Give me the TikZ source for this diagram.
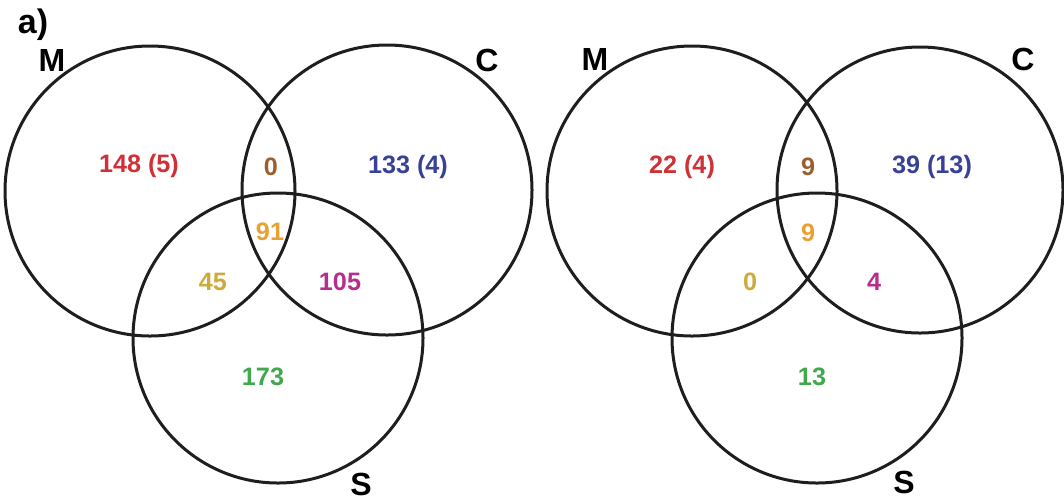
\documentclass[tikz,border=0pt]{standalone}
\usepackage{fontspec}
\setmainfont{Liberation Sans}
\usepackage{tikz}
\usetikzlibrary{calc}
\usepackage{xcolor}
\definecolor{setred}{RGB}{208,48,54}
\definecolor{setbrown}{RGB}{155,95,45}
\definecolor{setblue}{RGB}{55,65,150}
\definecolor{setorange}{RGB}{232,160,50}
\definecolor{setgold}{RGB}{205,170,60}
\definecolor{setmagenta}{RGB}{182,45,140}
\definecolor{setgreen}{RGB}{65,168,78}
\definecolor{ring}{RGB}{30,30,30}

\begin{document}
\begin{tikzpicture}[x=0.5pt,y=-0.5pt,line join=round,
    setring/.style={draw=ring,line width=1.5pt},
    setname/.style={font=\fontsize{16}{16}\selectfont\bfseries},
    count/.style={font=\fontsize{12.6}{13}\selectfont\bfseries}]
  \useasboundingbox (0,0) rectangle (1064,500);
  % left panel
  \coordinate (M1) at (150,191);
  \coordinate (C1) at (387,190);
  \coordinate (S1) at (278,338);
  \draw[setring] (M1) circle[radius=72.5pt];
  \draw[setring] (C1) circle[radius=72.5pt];
  \draw[setring] (S1) circle[radius=72.5pt];
  \node[setname,font=\fontsize{17}{17}\selectfont\bfseries] (panel) at (33,25) {a)};
  \node[setname] (m1) at (52,60) {M};
  \node[setname] (c1) at (487,60) {C};
  \node[setname] (s1) at (361,484) {S};
  \node[count,setred] (m1only) at (139,166) {148 (5)};
  \node[count,setbrown] (mc1) at (271,167) {0};
  \node[count,setblue] (c1only) at (408,167) {133 (4)};
  \node[count,setorange] (mcs1) at (270,232) {91};
  \node[count,setgold] (ms1) at (213,282) {45};
  \node[count,setmagenta] (cs1) at (340,282) {105};
  \node[count,setgreen] (s1only) at (263,377) {173};
  % right panel
  \coordinate (M2) at (692,191);
  \coordinate (C2) at (920,190);
  \coordinate (S2) at (817,338);
  \draw[setring] (M2) circle[radius=72.5pt];
  \draw[setring] (C2) circle[radius=71.5pt];
  \draw[setring] (S2) circle[radius=72.5pt];
  \node[setname] (m2) at (595,59) {M};
  \node[setname] (c2) at (1023,59) {C};
  \node[setname] (s2) at (904,482) {S};
  \node[count,setred] (m2only) at (682,167) {22 (4)};
  \node[count,setbrown] (mc2) at (808,167) {9};
  \node[count,setblue] (c2only) at (932,167) {39 (13)};
  \node[count,setorange] (mcs2) at (808,233) {9};
  \node[count,setgold] (ms2) at (750,282) {0};
  \node[count,setmagenta] (cs2) at (874,282) {4};
  \node[count,setgreen] (s2only) at (812,377) {13};
\end{tikzpicture}
\end{document}
